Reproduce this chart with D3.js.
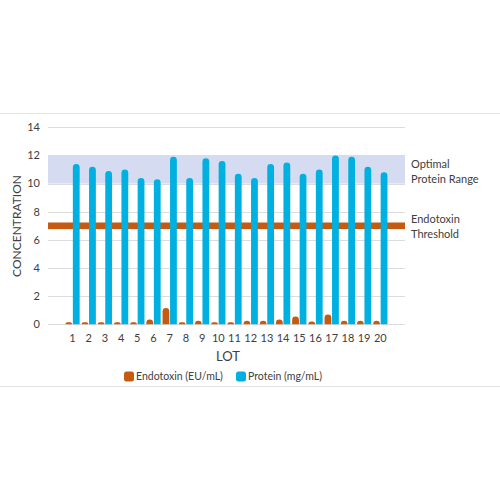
<!DOCTYPE html>
<html>
<head>
<meta charset="utf-8">
<script src="https://cdn.jsdelivr.net/npm/d3@7"></script>
<style>
  body { margin: 0; background: #fff; }
  text { font-family: Lato, "Open Sans", sans-serif; fill: #404040; }
</style>
</head>
<body>
<script>
var lots = ["1","2","3","4","5","6","7","8","9","10","11","12","13","14","15","16","17","18","19","20"];
var endotoxin = [0.15,0.15,0.15,0.15,0.15,0.35,1.15,0.15,0.25,0.15,0.15,0.25,0.25,0.35,0.55,0.2,0.7,0.25,0.25,0.25];
var protein = [11.4,11.2,10.9,11.0,10.4,10.3,11.9,10.4,11.8,11.6,10.7,10.4,11.4,11.5,10.7,11.0,12.0,11.9,11.2,10.8];
var yTicks = [0,2,4,6,8,10,12,14];
var proteinRange = [10, 12];
var endoThreshold = 7;
var seriesNames = ["Endotoxin (EU/mL)", "Protein (mg/mL)"];
var colors = ["#c55a11", "#00b0e0"];

var width = 500, height = 500;
var plotLeft = 48, plotRight = 405;

var svg = d3.select("body").append("svg")
    .attr("width", width)
    .attr("height", height);

// thin separators above and below chart
svg.append("line").attr("x1", 0).attr("x2", width).attr("y1", 113.5).attr("y2", 113.5)
    .attr("stroke", "#e3e3e3");
svg.append("line").attr("x1", 0).attr("x2", width).attr("y1", 386.5).attr("y2", 386.5)
    .attr("stroke", "#e3e3e3");

var x = d3.scaleBand()
    .domain(lots)
    .range([64.4, 388.4])
    .padding(0);

var x1 = d3.scaleBand()
    .domain([0, 1])
    .range([-7.5, 7.5]);

var y = d3.scaleLinear()
    .domain([0, 14])
    .range([324.3, 127.3]);

// protein range band
svg.append("rect")
    .attr("x", plotLeft)
    .attr("width", plotRight - plotLeft)
    .attr("y", y(proteinRange[1]))
    .attr("height", y(proteinRange[0]) - y(proteinRange[1]))
    .attr("fill", "#d5dcf1");

// gridlines
svg.append("g")
    .selectAll("line")
    .data(yTicks)
    .enter()
    .append("line")
    .attr("x1", plotLeft)
    .attr("x2", plotRight)
    .attr("y1", function(d) { return Math.round(y(d)) + 0.5; })
    .attr("y2", function(d) { return Math.round(y(d)) + 0.5; })
    .attr("stroke", "#dcdcdc");

// y tick labels
svg.append("g")
    .selectAll("text")
    .data(yTicks)
    .enter()
    .append("text")
    .attr("x", 40)
    .attr("y", function(d) { return y(d); })
    .attr("dy", "0.35em")
    .attr("text-anchor", "end")
    .style("font-size", "11px")
    .text(function(d) { return d; });

// endotoxin threshold
svg.append("rect")
    .attr("x", plotLeft)
    .attr("width", plotRight - plotLeft)
    .attr("y", y(endoThreshold) - 3.3)
    .attr("height", 6.6)
    .attr("fill", colors[0]);

function topRounded(bx, by, w, h) {
    var r = Math.min(w / 2, h);
    return "M" + bx + "," + (by + h) +
        "L" + bx + "," + (by + r) +
        "A" + r + "," + r + " 0 0 1 " + (bx + r) + "," + by +
        "L" + (bx + w - r) + "," + by +
        "A" + r + "," + r + " 0 0 1 " + (bx + w) + "," + (by + r) +
        "L" + (bx + w) + "," + (by + h) + "Z";
}

var barW = 6.8;
[endotoxin, protein].forEach(function(series, s) {
    svg.append("g")
        .selectAll("path")
        .data(series)
        .enter()
        .append("path")
        .attr("d", function(d, i) {
            var cx = x(lots[i]) + x.bandwidth() / 2 + x1(s) + x1.bandwidth() / 2;
            return topRounded(cx - barW / 2, y(d), barW, y(0) - y(d));
        })
        .attr("fill", colors[s]);
});

// x axis labels
svg.append("g")
    .selectAll("text")
    .data(lots)
    .enter()
    .append("text")
    .attr("x", function(d) { return x(d) + x.bandwidth() / 2; })
    .attr("y", 342)
    .attr("text-anchor", "middle")
    .style("font-size", "11px")
    .text(function(d) { return d; });

// axis titles
svg.append("text")
    .attr("x", 228)
    .attr("y", 361)
    .attr("text-anchor", "middle")
    .style("font-size", "13px")
    .text("LOT");

svg.append("text")
    .attr("transform", "translate(21,226) rotate(-90)")
    .attr("text-anchor", "middle")
    .style("font-size", "12px")
    .text("CONCENTRATION");

// right side annotations
var notes = [["Optimal", 168], ["Protein Range", 183], ["Endotoxin", 223], ["Threshold", 238]];
svg.append("g")
    .selectAll("text")
    .data(notes)
    .enter()
    .append("text")
    .attr("x", 411)
    .attr("y", function(d) { return d[1]; })
    .style("font-size", "11px")
    .text(function(d) { return d[0]; });

// legend
var legendX = [124, 236];
var lg = svg.append("g")
    .selectAll("g")
    .data(seriesNames)
    .enter()
    .append("g")
    .attr("transform", function(d, i) { return "translate(" + legendX[i] + ",376)"; });
lg.append("rect")
    .attr("x", 0)
    .attr("y", -4.5)
    .attr("width", 10)
    .attr("height", 10)
    .attr("rx", 2.5)
    .attr("fill", function(d, i) { return colors[i]; });
lg.append("text")
    .attr("x", 12)
    .attr("y", 0.5)
    .attr("dy", "0.35em")
    .style("font-size", "10.5px")
    .text(function(d) { return d; });
</script>
</body>
</html>
